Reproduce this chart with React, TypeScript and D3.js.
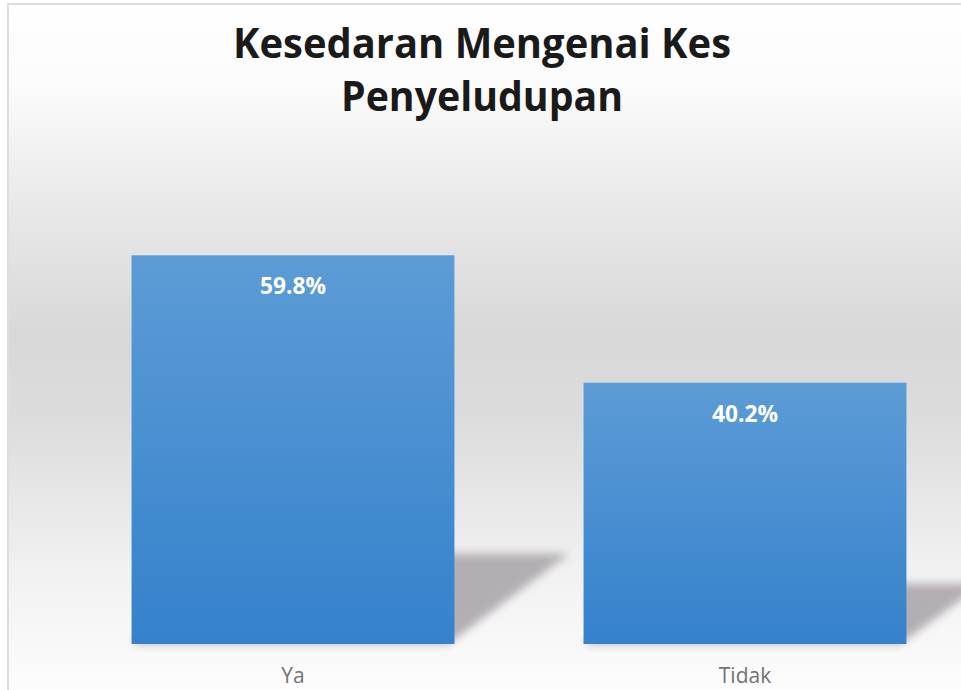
import React from 'react';
import * as d3 from 'd3';

const categories = ['Ya', 'Tidak'];
const values = [59.8, 40.2];
const valueLabels = ['59.8%', '40.2%'];
const titleLines = ['Kesedaran Mengenai Kes', 'Penyeludupan'];

const W = 961;
const H = 690;

export default function App() {
  // plot area (Excel style: 40% gap width, right side is cropped)
  const x = d3.scaleBand<string>()
    .domain(categories)
    .range([67, 971])
    .paddingInner(0.4 / 1.4)
    .paddingOuter(0.2 / 1.4);
  const y = d3.scaleLinear().domain([0, 70]).range([644, 189]);
  const base = y(0);

  return (
    <svg width={W} height={H} style={{ position: 'absolute', left: 0, top: 0, display: 'block' }}>
      <defs>
        <linearGradient id="bg" x1="0" y1="0" x2="0" y2="1">
          <stop offset="0" stopColor="#ffffff" />
          <stop offset="0.12" stopColor="#fbfbfb" />
          <stop offset="0.3" stopColor="#e8e8e8" />
          <stop offset="0.48" stopColor="#d8d8d8" />
          <stop offset="0.6" stopColor="#dcdcdc" />
          <stop offset="0.82" stopColor="#f1f1f1" />
          <stop offset="1" stopColor="#fdfdfd" />
        </linearGradient>
        <linearGradient id="bar" x1="0" y1="0" x2="0" y2="1">
          <stop offset="0" stopColor="#5c9cd6" />
          <stop offset="1" stopColor="#3581cc" />
        </linearGradient>
        <filter id="blur" x="-20%" y="-20%" width="140%" height="140%">
          <feGaussianBlur stdDeviation="4.5" />
        </filter>
      </defs>

      <rect x={0} y={0} width={W} height={H} fill="#ffffff" />
      <rect x={8} y={4} width={W} height={H} fill="url(#bg)" stroke="#dedede" strokeWidth={2} />

      {/* perspective shadows */}
      {categories.map((c, i) => {
        const x0 = x(c)!;
        const x1 = x0 + x.bandwidth();
        const h = base - y(values[i]);
        const sh = h * 0.232;
        const dx = sh * 1.27;
        const pts = [
          [x0, base], [x1 - 6, base], [x1 + dx, base - sh], [x0 + dx, base - sh],
        ].map(p => p.join(',')).join(' ');
        return (
          <polygon key={'s' + c} points={pts} fill="#b3aeb3" filter="url(#blur)" />
        );
      })}

      {categories.map((c, i) => (
        <rect
          key={c}
          x={x(c)}
          y={y(values[i])}
          width={x.bandwidth()}
          height={base - y(values[i])}
          fill="url(#bar)"
        />
      ))}

      {categories.map((c, i) => (
        <text
          key={'v' + c}
          x={x(c)! + x.bandwidth() / 2}
          y={y(values[i]) + 39}
          textAnchor="middle"
          fontFamily="'Open Sans', sans-serif"
          fontWeight="bold"
          fontSize={23}
          fill="#ffffff"
          textLength={66}
          lengthAdjust="spacingAndGlyphs"
        >
          {valueLabels[i]}
        </text>
      ))}

      {categories.map(c => (
        <text
          key={'c' + c}
          x={x(c)! + x.bandwidth() / 2}
          y={683}
          textAnchor="middle"
          fontFamily="'Open Sans', sans-serif"
          fontSize={21}
          fill="#737373"
        >
          {c}
        </text>
      ))}

      <text x={482} y={58} textAnchor="middle" fontFamily="'Open Sans', sans-serif" fontWeight="bold"
        fontSize={42} fill="#1a1a1a" textLength={498} lengthAdjust="spacingAndGlyphs">
        {titleLines[0]}
      </text>
      <text x={482} y={111} textAnchor="middle" fontFamily="'Open Sans', sans-serif" fontWeight="bold"
        fontSize={42} fill="#1a1a1a" textLength={282} lengthAdjust="spacingAndGlyphs">
        {titleLines[1]}
      </text>
    </svg>
  );
}
